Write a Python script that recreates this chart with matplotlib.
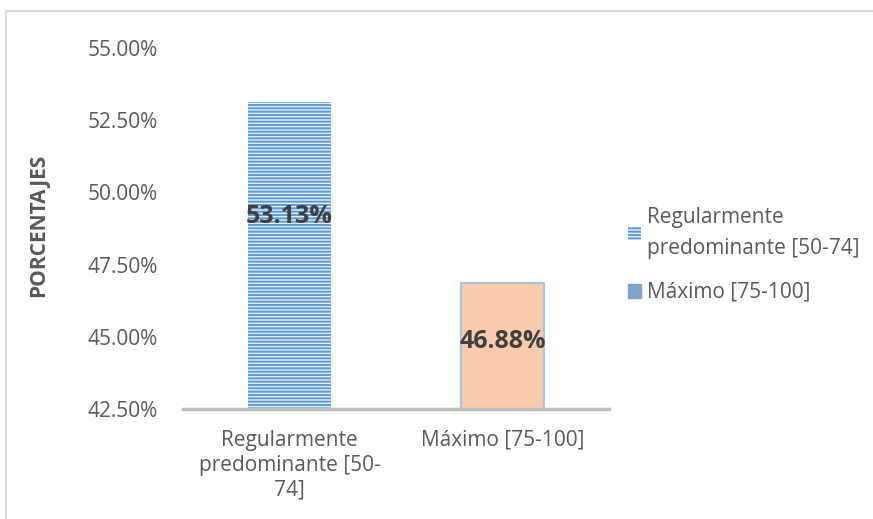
import matplotlib
matplotlib.use("Agg")
import matplotlib.pyplot as plt
from matplotlib.patches import Patch
from matplotlib.lines import Line2D
from matplotlib.ticker import FuncFormatter

plt.rcParams['font.family'] = ['Open Sans', 'DejaVu Sans']
plt.rcParams['hatch.linewidth'] = 1.4

# data
categories = ["Regularmente\npredominante [50-\n74]", "Máximo [75-100]"]
legend_labels = ["Regularmente\npredominante [50-74]", "Máximo [75-100]"]
values = [53.13, 46.88]
yticks = [42.5, 45.0, 47.5, 50.0, 52.5, 55.0]

text_col = "#595959"

fig = plt.figure(figsize=(8.73, 5.19), dpi=100)
ax = fig.add_axes([183 / 873, 1 - 409 / 519, 426 / 873, 361 / 519])

x = range(len(values))
ax.bar(0, values[0], width=0.385, bottom=0, color="#E4EEF9",
       edgecolor="#5B9BD5", hatch="-----", linewidth=0)
ax.bar(1, values[1], width=0.385, bottom=0, color="#F8CBAD",
       edgecolor="#A9C4E4", linewidth=1.5)

ax.set_ylim(42.5, 55.0)
ax.set_xlim(-0.5, 1.5)
ax.set_yticks(yticks)
ax.yaxis.set_major_formatter(FuncFormatter(lambda v, p: f"{v:.2f}%"))
ax.set_xticks(list(x))
ax.set_xticklabels(categories, linespacing=1.25)
ax.tick_params(axis="both", length=0, labelsize=15, colors=text_col)
ax.tick_params(axis="y", pad=18)
ax.tick_params(axis="x", pad=15)

for s in ["top", "right", "left"]:
    ax.spines[s].set_visible(False)
ax.spines["bottom"].set_color("#BFBFBF")
ax.spines["bottom"].set_linewidth(2.5)

ax.set_ylabel("PORCENTAJES", fontsize=15, fontweight="bold", color=text_col)
ax.yaxis.set_label_coords(-0.315, 0.51)

# data labels
label_y = [49.15, 44.82]
for i, v in enumerate(values):
    ax.text(i, label_y[i], f"{v:.2f}%", ha="center", va="center",
            fontsize=18, fontweight="bold", color="#404040")

handles = [Patch(facecolor="#E4EEF9", edgecolor="#5B9BD5", hatch="-----", linewidth=0),
           Patch(facecolor="#7FA2CF", edgecolor="#7FA2CF")]
leg = fig.legend(handles, legend_labels, loc="upper left", bbox_to_anchor=(613 / 873, 1 - 192 / 519),
                 frameon=False, fontsize=15, handlelength=0.65, handleheight=0.65,
                 handletextpad=0.3, labelspacing=1.1, labelcolor=text_col, borderpad=0.2)
for t in leg.get_texts():
    t.set_linespacing(1.65)

# outer border
fig.add_artist(Line2D([5.5 / 873, 5.5 / 873], [0, 1 - 10.5 / 519], color="#D9D9D9", lw=1.5))
fig.add_artist(Line2D([5.5 / 873, 872 / 873], [1 - 10.5 / 519, 1 - 10.5 / 519], color="#D9D9D9", lw=1.5))

fig.savefig("out.png", dpi=100)
